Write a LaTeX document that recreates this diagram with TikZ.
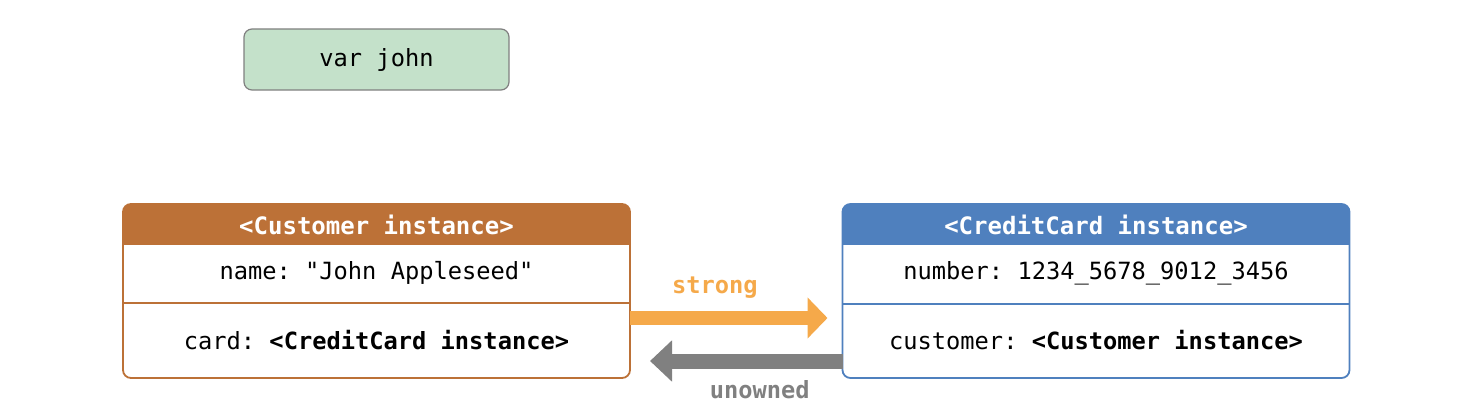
\documentclass[tikz,border=0pt]{standalone}
\usepackage{fontspec}
\setmonofont{DejaVu Sans Mono}
\usetikzlibrary{arrows.meta}

\definecolor{custbrown}{HTML}{BC7137}
\definecolor{cardblue}{HTML}{4F80BE}
\definecolor{varfill}{HTML}{C4E1CA}
\definecolor{strongorange}{HTML}{F5A94A}
\definecolor{unownedgray}{HTML}{808080}

\tikzset{
  x = 1pt, y = 1pt,
  every node/.style = {font = \ttfamily\fontsize{23.7}{28}\selectfont, inner sep = 0pt, outer sep = 0pt},
  varbox/.style = {draw = unownedgray, line width = 1.2pt, fill = varfill, rounded corners = 8pt,
    minimum width = 265pt, minimum height = 61pt},
  instbox/.style = {draw = #1, line width = 1.8pt, rounded corners = 8pt,
    minimum width = 507pt, minimum height = 174pt,
    path picture = {\fill [#1, sharp corners] (path picture bounding box.north west) rectangle ([yshift = -41pt]path picture bounding box.north east);}},
  headtext/.style = {text = white, font = \ttfamily\bfseries\fontsize{24}{28}\selectfont},
  divider/.style = {draw = #1, line width = 1.2pt},
  strongarrow/.style = {draw = strongorange, line width = 14pt, -{Triangle[length = 20pt, width = 40pt]}},
  unownedarrow/.style = {draw = unownedgray, line width = 15pt, -{Triangle[length = 22pt, width = 40pt]}},
  arrowtext/.style = {text = #1, font = \ttfamily\bfseries\fontsize{23.7}{28}\selectfont}
}

\begin{document}
\begin{tikzpicture}
\useasboundingbox (0, 0) rectangle (1472, -420);
% variable
\node [varbox] (john) at (376.5, -59.5) {var john};
% Customer instance
\node [instbox = custbrown] (cust) at (376.5, -291) {};
\node [headtext] (custtitle) at ([yshift = -20.5pt]cust.north) {<Customer instance>};
\draw [divider = custbrown] ([yshift = -99pt]cust.north west) -- ([yshift = -99pt]cust.north east);
\node (custname) at ([yshift = -69pt]cust.north) {name: "John Appleseed"};
\node (custcard) at ([yshift = -136pt]cust.north) {card: \textbf{<CreditCard instance>}};
% CreditCard instance
\node [instbox = cardblue] (card) at (1096, -291) {};
\node [headtext] (cardtitle) at ([yshift = -20.5pt]card.north) {<CreditCard instance>};
\draw [divider = cardblue] ([yshift = -100pt]card.north west) -- ([yshift = -100pt]card.north east);
\node (cardnumber) at ([yshift = -69pt]card.north) {number: 1234\_5678\_9012\_3456};
\node (cardcust) at ([yshift = -136pt]card.north) {customer: \textbf{<Customer instance>}};
% references
\draw [strongarrow] ([yshift = -27pt]cust.east) -- ([xshift = -15pt, yshift = -27pt]card.west)
  node [pos = 0.43, yshift = 30pt, arrowtext = strongorange] (strong) {strong};
\draw [unownedarrow] ([yshift = -70pt]card.west) -- ([xshift = 20pt, yshift = -70pt]cust.east)
  node [pos = 0.43, yshift = -29pt, arrowtext = unownedgray] (unowned) {unowned};
\end{tikzpicture}
\end{document}
